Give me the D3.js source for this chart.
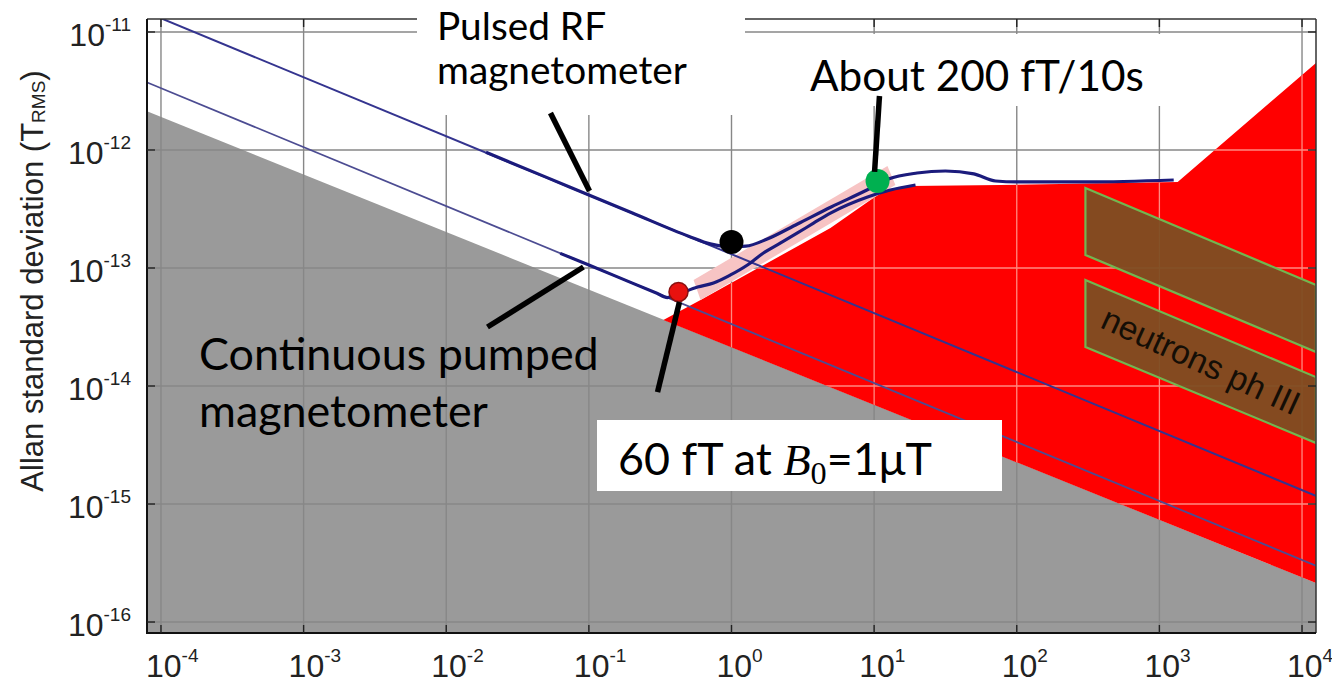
<!DOCTYPE html>
<html>
<head>
<meta charset="utf-8">
<script src="https://cdn.jsdelivr.net/npm/d3@7"></script>
<style>
  html, body { margin: 0; padding: 0; background: #fff; }
  svg { display: block; }
</style>
</head>
<body>
<svg id="chart" width="1332" height="685"></svg>
<script>
// Averaging time tau (s) on x, Allan standard deviation sigma (T) on y, both logarithmic.
const xExtent = [10 ** -4.098, 10 ** 4.098];
const yExtent = [10 ** -16.093, 10 ** -10.89];
const xTickExps = [-4, -3, -2, -1, 0, 1, 2, 3, 4];
const yTickExps = [-16, -15, -14, -13, -12, -11];

// Grey region: below the fundamental noise floor
const noiseFloor = [[7.9e-5, 2.14e-12], [1.26e4, 2.14e-16]];

// Thin white-noise limits (tau^-1/2) of the two magnetometer types
const pulsedLimit = [[7.9e-5, 1.47e-11], [1.26e4, 1.17e-15]];
const continuousLimit = [[7.9e-5, 3.76e-12], [1.26e4, 2.99e-16]];

// Measured Allan deviation, pulsed RF magnetometer
const pulsedTau   = [0.019, 0.05, 0.1, 0.2, 0.5, 0.71, 1.0, 1.26, 1.78, 2.9, 5.0, 8.9, 12.6, 20, 31.6, 50, 71, 100, 316, 1260];
const pulsedSigma = [9.55e-13, 5.89e-13, 4.16e-13, 2.94e-13, 1.86e-13, 1.60e-13, 1.51e-13, 1.53e-13, 1.76e-13,
                     2.36e-13, 3.29e-13, 4.58e-13, 5.68e-13, 6.38e-13, 6.64e-13, 6.27e-13, 5.46e-13, 5.36e-13,
                     5.36e-13, 5.57e-13];

// Measured Allan deviation, continuously pumped magnetometer
const contTau   = [0.063, 0.1, 0.2, 0.3, 0.355, 0.425, 0.578, 0.748, 0.984, 1.294, 1.675, 2.21, 2.90, 3.76, 4.94, 9.0, 13.0, 19.5];
const contSigma = [1.33e-13, 1.06e-13, 7.48e-14, 6.11e-14, 5.62e-14, 6.03e-14, 6.90e-14, 7.46e-14, 8.73e-14,
                   1.06e-13, 1.34e-13, 1.63e-13, 1.98e-13, 2.40e-13, 2.92e-13, 4.0e-13, 4.58e-13, 5.05e-13];

// Red region: drift-dominated domain above the noise floor
const driftTau   = [0.333, 0.607, 4.94, 11.6, 18, 76.9, 1343, 12530, 12530];
const driftSigma = [3.63e-14, 5.36e-14, 2.18e-13, 4.50e-13, 4.95e-13, 5.05e-13, 5.36e-13, 5.46e-12, 2.14e-16];

// Light pink band along the rising branch
const pinkTau   = [0.542, 12.4, 14.1, 0.607];
const pinkSigma = [7.91e-14, 7.31e-13, 5.05e-13, 5.36e-14];

// Neutron EDM phase III requirement bands
const neutronUpperTau   = [303, 12530, 12530, 303];
const neutronUpperSigma = [4.77e-13, 7.18e-14, 1.94e-14, 1.29e-13];
const neutronLowerTau   = [303, 12530, 12530, 303];
const neutronLowerSigma = [7.91e-14, 1.19e-14, 3.29e-15, 2.14e-14];

// Highlighted operating points
const markerTau   = [0.425, 1.0, 10.57];
const markerSigma = [6.27e-14, 1.66e-13, 5.46e-13];
const markerFill  = ["#e8110f", "#000000", "#00b050"];

// Callout leader lines: [tau1, sigma1, tau2, sigma2]
const leaderPulsed = [0.0538, 2.06e-12, 0.101, 4.50e-13];
const leaderCont   = [0.0916, 1.02e-13, 0.01945, 3.16e-14];
const leaderSixty  = [0.4315, 5.15e-14, 0.303, 8.89e-15];
const leaderAbout  = [10.9, 2.87e-12, 10.07, 6.52e-13];

const plot = { l: 147, r: 1316, t: 19, b: 633 };

const svg = d3.select("#chart");
const x = d3.scaleLog().domain(xExtent).range([plot.l, plot.r]);
const y = d3.scaleLog().domain(yExtent).range([plot.b, plot.t]);

const zip = (a, b) => a.map((v, i) => [v, b[i]]);
const poly = d3.line().x(d => x(d[0])).y(d => y(d[1]));
const closed = pts => poly(pts) + "Z";

const defs = svg.append("defs");
defs.append("clipPath").attr("id", "plotClip")
  .append("rect").attr("x", plot.l).attr("y", plot.t)
  .attr("width", plot.r - plot.l).attr("height", plot.b - plot.t);
const driftPts = zip(driftTau, driftSigma);
defs.append("clipPath").attr("id", "driftClip")
  .append("path").attr("d", closed(driftPts));

const g = svg.append("g").attr("clip-path", "url(#plotClip)");

// background
g.append("rect").attr("x", plot.l).attr("y", plot.t)
  .attr("width", plot.r - plot.l).attr("height", plot.b - plot.t).attr("fill", "#fff");

// grey region under the noise floor
g.append("path")
  .attr("d", closed([...noiseFloor, [xExtent[1], yExtent[0]], [xExtent[0], yExtent[0]]]))
  .attr("fill", "#9a9a9a");

function drawGrid(parent, color, width) {
  const gg = parent.append("g");
  xTickExps.forEach(e => gg.append("line")
    .attr("x1", x(10 ** e)).attr("x2", x(10 ** e)).attr("y1", plot.t).attr("y2", plot.b)
    .attr("stroke", color).attr("stroke-width", width));
  yTickExps.forEach(e => gg.append("line")
    .attr("y1", y(10 ** e)).attr("y2", y(10 ** e)).attr("x1", plot.l).attr("x2", plot.r)
    .attr("stroke", color).attr("stroke-width", width));
  return gg;
}
drawGrid(g, "#878787", 1.4);

// red drift region
g.append("path").attr("d", closed(driftPts)).attr("fill", "#ff0000");
drawGrid(g, "#ff8a80", 1.3).attr("clip-path", "url(#driftClip)");

// neutron bands
[zip(neutronUpperTau, neutronUpperSigma), zip(neutronLowerTau, neutronLowerSigma)].forEach(b => {
  g.append("path").attr("d", closed(b))
    .attr("fill", "#7d4e22").attr("fill-opacity", 0.95)
    .attr("stroke", "#72b650").attr("stroke-width", 2.2);
});

// pink band
g.append("path").attr("d", closed(zip(pinkTau, pinkSigma))).attr("fill", "#f7c4c4");

// thin white-noise limit lines
g.append("path").attr("d", poly(pulsedLimit)).attr("fill", "none")
  .attr("stroke", "#34348f").attr("stroke-width", 2);
g.append("path").attr("d", poly(continuousLimit)).attr("fill", "none")
  .attr("stroke", "#4c4c92").attr("stroke-width", 1.8);

// measured curves
const smooth = d3.line().x(d => x(d[0])).y(d => y(d[1])).curve(d3.curveMonotoneX);
g.append("path").attr("d", smooth(zip(pulsedTau, pulsedSigma))).attr("fill", "none")
  .attr("stroke", "#1b1b7c").attr("stroke-width", 3.2);
g.append("path").attr("d", smooth(zip(contTau, contSigma))).attr("fill", "none")
  .attr("stroke", "#1b1b7c").attr("stroke-width", 3.2);

// axes frame and ticks
const frame = svg.append("g");
frame.append("line").attr("x1", plot.l).attr("x2", plot.r).attr("y1", plot.t).attr("y2", plot.t)
  .attr("stroke", "#333").attr("stroke-width", 1.5);
frame.append("line").attr("x1", plot.r).attr("x2", plot.r).attr("y1", plot.t).attr("y2", plot.b)
  .attr("stroke", "#333").attr("stroke-width", 1.5);
frame.append("line").attr("x1", plot.l).attr("x2", plot.l).attr("y1", plot.t).attr("y2", plot.b + 1)
  .attr("stroke", "#111").attr("stroke-width", 2);
frame.append("line").attr("x1", plot.l - 1).attr("x2", plot.r).attr("y1", plot.b).attr("y2", plot.b)
  .attr("stroke", "#111").attr("stroke-width", 2);
xTickExps.forEach(e => {
  const px = x(10 ** e);
  frame.append("line").attr("x1", px).attr("x2", px).attr("y1", plot.b).attr("y2", plot.b - 8)
    .attr("stroke", "#222").attr("stroke-width", 1.4);
  frame.append("line").attr("x1", px).attr("x2", px).attr("y1", plot.t).attr("y2", plot.t + 8)
    .attr("stroke", "#222").attr("stroke-width", 1.4);
});
yTickExps.forEach(e => {
  const py = y(10 ** e);
  frame.append("line").attr("x1", plot.l).attr("x2", plot.l + 8).attr("y1", py).attr("y2", py)
    .attr("stroke", "#222").attr("stroke-width", 1.4);
  frame.append("line").attr("x1", plot.r).attr("x2", plot.r - 8).attr("y1", py).attr("y2", py)
    .attr("stroke", "#222").attr("stroke-width", 1.4);
});

// tick labels
const tickFont = "'Liberation Sans', Arial, sans-serif";
xTickExps.forEach(e => {
  const t = svg.append("text").attr("x", x(10 ** e) - 15).attr("y", 677)
    .attr("font-family", tickFont).attr("font-size", 32).attr("fill", "#222");
  t.append("tspan").text("10");
  t.append("tspan").attr("font-size", 19).attr("dy", -15).text(String(e));
});
yTickExps.forEach(e => {
  const t = svg.append("text").attr("x", 131).attr("y", y(10 ** e) + 14)
    .attr("text-anchor", "end")
    .attr("font-family", tickFont).attr("font-size", 32).attr("fill", "#222");
  t.append("tspan").text("10");
  t.append("tspan").attr("font-size", 19).attr("dy", -15).text(String(e));
});

// y axis title
const yt = svg.append("text")
  .attr("transform", "translate(43,281) rotate(-90)")
  .attr("text-anchor", "middle")
  .attr("font-family", tickFont).attr("font-size", 31).attr("fill", "#222");
yt.append("tspan").text("Allan standard deviation (T");
yt.append("tspan").attr("font-size", 19).attr("dy", 2).text("RMS");
yt.append("tspan").attr("dy", -2).text(")");

// neutron band label
const nl = svg.append("text")
  .attr("transform", "translate(1201,361) rotate(24.6)")
  .attr("text-anchor", "middle").attr("dominant-baseline", "central")
  .attr("font-family", tickFont).attr("font-size", 30).attr("fill", "#140e06")
  .text("neutrons ph III");

function fitSize(sel, target) {
  const w = sel.node().getComputedTextLength();
  const fs = parseFloat(sel.attr("font-size"));
  return fs * target / w;
}
nl.attr("font-size", fitSize(nl, 214));

// operating points
markerTau.forEach((t, i) => {
  svg.append("circle").attr("cx", x(t)).attr("cy", y(markerSigma[i]))
    .attr("r", i === 0 ? 9.5 : 12)
    .attr("fill", markerFill[i])
    .attr("stroke", i === 0 ? "#8a1010" : "none").attr("stroke-width", 1.5);
});

// annotation boxes
const noteFont = "Lato, 'Open Sans', sans-serif";
svg.append("rect").attr("x", 417).attr("y", 0).attr("width", 328).attr("height", 115).attr("fill", "#fff");
svg.append("rect").attr("x", 795).attr("y", 34).attr("width", 450).attr("height", 72).attr("fill", "#fff");
svg.append("rect").attr("x", 597).attr("y", 420).attr("width", 405).attr("height", 71).attr("fill", "#fff");

// leader lines
[leaderPulsed, leaderCont, leaderSixty, leaderAbout].forEach(l => {
  svg.append("line")
    .attr("x1", x(l[0])).attr("y1", y(l[1])).attr("x2", x(l[2])).attr("y2", y(l[3]))
    .attr("stroke", "#000").attr("stroke-width", 5.5);
});

function note(lines, x0, baselines, widthOfLast) {
  const texts = lines.map((s, i) => svg.append("text").attr("x", x0).attr("y", baselines[i])
    .attr("font-family", noteFont).attr("font-size", 40).attr("fill", "#000").text(s));
  const fs = fitSize(texts[texts.length - 1], widthOfLast);
  texts.forEach(t => t.attr("font-size", fs));
}
note(["Pulsed RF", "magnetometer"], 437, [40, 84], 250);
note(["Continuous pumped", "magnetometer"], 199, [370, 427], 289);
note(["About 200 fT/10s"], 810, [91], 334);

const sixty = svg.append("text").attr("x", 618).attr("y", 475)
  .attr("font-family", noteFont).attr("font-size", 44).attr("fill", "#000");
sixty.append("tspan").text("60 fT at ");
sixty.append("tspan").attr("font-family", "'Liberation Serif', 'DejaVu Serif', serif")
  .attr("font-style", "italic").text("B");
sixty.append("tspan").attr("font-family", "'Liberation Serif', 'DejaVu Serif', serif")
  .attr("font-size", "0.72em").attr("dy", 9).text("0");
sixty.append("tspan").attr("dy", -9).text("=1μT");
sixty.attr("font-size", fitSize(sixty, 314));
</script>
</body>
</html>
